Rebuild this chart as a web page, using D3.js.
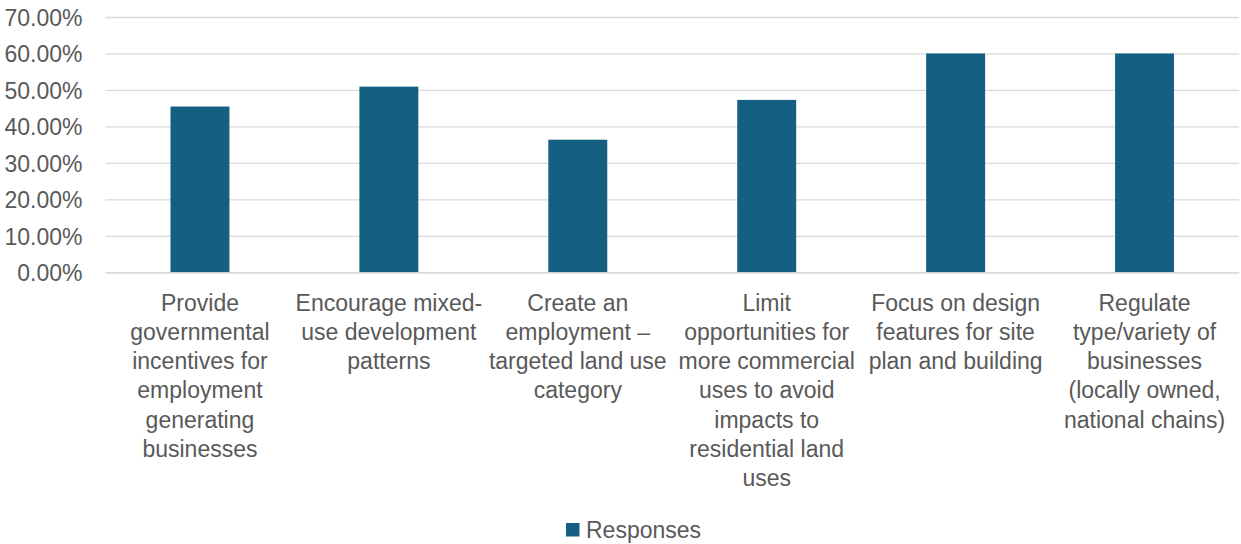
<!DOCTYPE html>
<html>
<head>
<meta charset="utf-8">
<script src="https://cdn.jsdelivr.net/npm/d3@7"></script>
<style>
  html, body { margin: 0; padding: 0; background: #ffffff; }
  svg { display: block; }
  text { font-family: "Liberation Sans", Arial, sans-serif; fill: #595959; }
</style>
</head>
<body>
<svg id="chart" width="1241" height="544"></svg>
<script>
// Survey responses per strategy (line breaks mark the wrapped label lines)
const categories = [
  "Provide\ngovernmental\nincentives for\nemployment\ngenerating\nbusinesses",
  "Encourage mixed-\nuse development\npatterns",
  "Create an\nemployment –\ntargeted land use\ncategory",
  "Limit\nopportunities for\nmore commercial\nuses to avoid\nimpacts to\nresidential land\nuses",
  "Focus on design\nfeatures for site\nplan and building",
  "Regulate\ntype/variety of\nbusinesses\n(locally owned,\nnational chains)"
];
const responses = [0.4545, 0.5091, 0.3636, 0.4727, 0.60, 0.60];
const yTicks = [0, 0.1, 0.2, 0.3, 0.4, 0.5, 0.6, 0.7];
const seriesName = "Responses";

const svg = d3.select("#chart");
const fontSize = 23;

const x = d3.scaleBand()
  .domain(categories)
  .range([105.5, 1239])
  .paddingInner(0.688)
  .paddingOuter(0.344);

const y = d3.scaleLinear()
  .domain([0, 0.7])
  .range([272.3, 17]);

// Gridlines and value axis labels
const yAxis = d3.axisLeft(y)
  .tickValues(yTicks)
  .tickFormat(d3.format(".2%"))
  .tickSize(-(1239 - 105.5))
  .tickPadding(23);

const gy = svg.append("g")
  .attr("transform", "translate(105.5,0)")
  .call(yAxis);
gy.select(".domain").remove();
gy.selectAll(".tick line")
  .attr("stroke", "#d9d9d9")
  .attr("stroke-width", 1.3);
gy.selectAll(".tick text")
  .attr("font-size", fontSize)
  .attr("fill", "#595959")
  .attr("font-family", "Liberation Sans, Arial, sans-serif")
  .attr("dy", "0.36em");

// Bars
svg.append("g")
  .selectAll("rect")
  .data(categories.map((c, i) => ({ c, v: responses[i] })))
  .join("rect")
  .attr("x", d => x(d.c))
  .attr("width", x.bandwidth())
  .attr("y", d => y(d.v))
  .attr("height", d => y(0) - y(d.v))
  .attr("fill", "#156082");

// Category axis with wrapped labels
const xAxis = d3.axisBottom(x).tickSize(0).tickFormat("");
const gx = svg.append("g")
  .attr("transform", `translate(0,${y(0)})`)
  .call(xAxis);
gx.select(".domain").attr("stroke", "#d9d9d9").attr("stroke-width", 1.3);

const lineHeight = 29.2;
gx.selectAll(".tick").each(function(d) {
  const t = d3.select(this).append("text")
    .attr("text-anchor", "middle")
    .attr("font-size", fontSize)
    .attr("fill", "#595959")
    .attr("font-family", "Liberation Sans, Arial, sans-serif");
  d.split("\n").forEach((line, i) => {
    t.append("tspan")
      .attr("x", 0)
      .attr("y", 38.5 + i * lineHeight)
      .text(line);
  });
});

// Legend
const legend = svg.append("g").attr("transform", "translate(566,523)");
legend.append("rect")
  .attr("width", 13.5)
  .attr("height", 13.5)
  .attr("fill", "#156082");
legend.append("text")
  .attr("x", 20)
  .attr("y", 15)
  .attr("font-size", fontSize)
  .text(seriesName);
</script>
</body>
</html>
